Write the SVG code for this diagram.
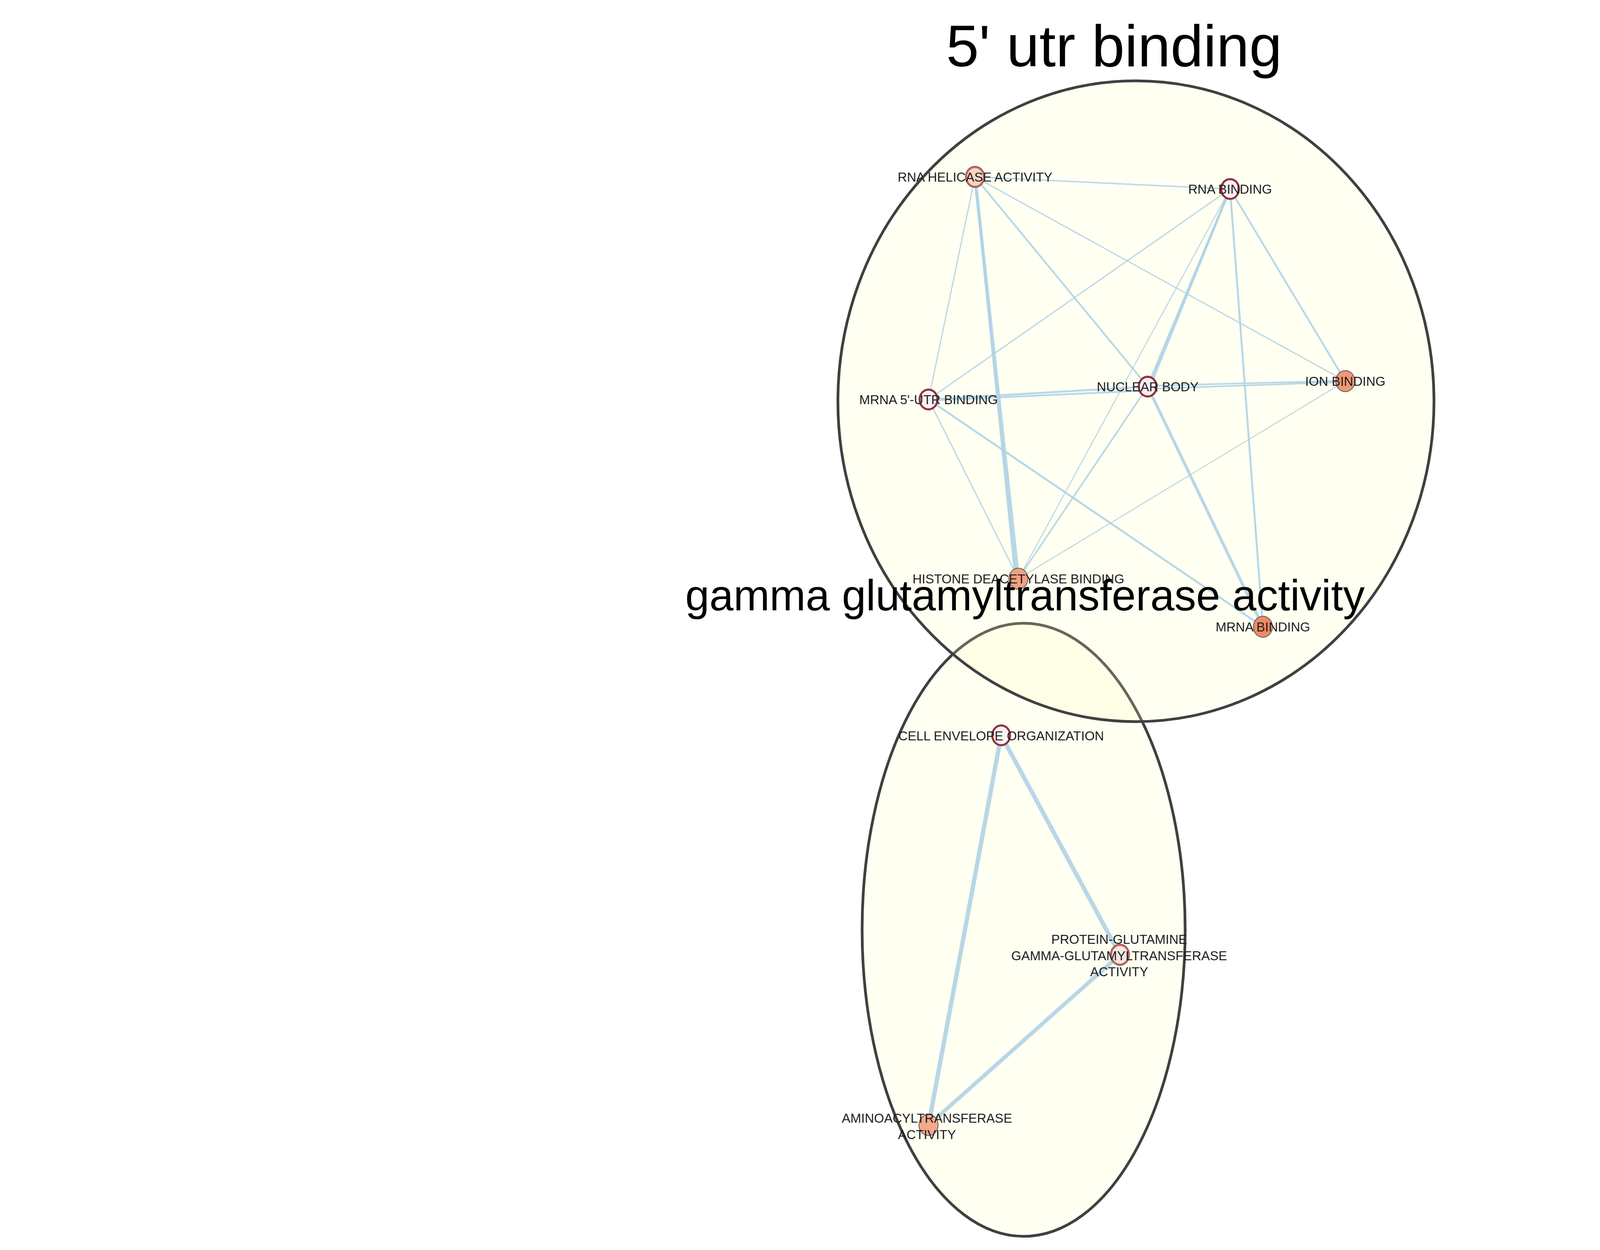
<svg xmlns="http://www.w3.org/2000/svg" width="5427" height="3201" viewBox="0 0 5427 3201">
<style>
.hull{fill:#FFFFBE;fill-opacity:0.2;stroke:#404040;stroke-width:7}
.e{stroke:#AFD3E6;stroke-opacity:0.9;fill:none;stroke-linecap:butt}
.nout{stroke:#5A5A5A;stroke-width:2}
.ring{fill:none;stroke-width:3.5}
.lbl{font-family:"Liberation Sans",Arial,sans-serif;font-size:33px;fill:#1E1E1E;text-anchor:middle}
.title{font-family:"Liberation Sans",Arial,sans-serif;fill:#000;text-anchor:middle}
</style>
<rect width="5427" height="3201" fill="#FFFFFF"/>
<g id="hulls">
<ellipse id="hull-gamma" class="hull" cx="2620.5" cy="2381" rx="413.5" ry="785"/>
<ellipse id="hull-utr" class="hull" cx="2908" cy="1027.5" rx="763" ry="820.5"/>
</g>
<g id="connectors">
<line class="e" stroke-width="3.5" x1="2496" y1="453" x2="3149" y2="484"/>
<line class="e" stroke-width="8" x1="2496" y1="453" x2="2607" y2="1482"/>
<line class="e" stroke-width="6" x1="2496" y1="453" x2="2600" y2="1482"/>
<line class="e" stroke-width="3" x1="2496" y1="453" x2="2377" y2="1023"/>
<line class="e" stroke-width="4.5" x1="2496" y1="453" x2="2938" y2="990"/>
<line class="e" stroke-width="3" x1="2496" y1="453" x2="3444" y2="976"/>
<line class="e" stroke-width="3" x1="3149" y1="484" x2="2377" y2="1023"/>
<line class="e" stroke-width="2.5" x1="3149" y1="484" x2="2607" y2="1482"/>
<line class="e" stroke-width="6" x1="3149" y1="484" x2="2938" y2="990"/>
<line class="e" stroke-width="5" x1="3149" y1="484" x2="2944" y2="990"/>
<line class="e" stroke-width="5" x1="3149" y1="484" x2="3233" y2="1605"/>
<line class="e" stroke-width="4.5" x1="3149" y1="484" x2="3444" y2="976"/>
<line class="e" stroke-width="5" x1="2938" y1="990" x2="2377" y2="1023"/>
<line class="e" stroke-width="4.5" x1="2938" y1="1000" x2="2377" y2="1026"/>
<line class="e" stroke-width="4" x1="2938" y1="988" x2="3444" y2="975"/>
<line class="e" stroke-width="4" x1="2938" y1="996" x2="3444" y2="978"/>
<line class="e" stroke-width="7.5" x1="2938" y1="990" x2="3233" y2="1605"/>
<line class="e" stroke-width="4" x1="2938" y1="990" x2="2607" y2="1482"/>
<line class="e" stroke-width="2.5" x1="3444" y1="976" x2="2607" y2="1482"/>
<line class="e" stroke-width="3" x1="2377" y1="1023" x2="2607" y2="1482"/>
<line class="e" stroke-width="5" x1="2377" y1="1023" x2="3233" y2="1605"/>
<line class="e" stroke-width="11" x1="2563" y1="1883" x2="2867" y2="2445"/>
<line class="e" stroke-width="11" x1="2563" y1="1883" x2="2377" y2="2881"/>
<line class="e" stroke-width="10" x1="2867" y1="2445" x2="2377" y2="2881"/>
</g>
<g id="node-rna-helicase-activity">
<ellipse class="nout" cx="2496" cy="453" rx="24.5" ry="27" fill="#F6D4C6"/>
<ellipse class="ring" cx="2496" cy="453" rx="22" ry="24.5" stroke="#D6604D"/>
<text class="lbl" x="2496" y="465">RNA HELICASE ACTIVITY</text>
</g>
<g id="node-rna-binding">
<ellipse class="nout" cx="3149" cy="484" rx="24.5" ry="27" fill="#F7F0F2"/>
<ellipse class="ring" cx="3149" cy="484" rx="22" ry="24.5" stroke="#B2182B"/>
<text class="lbl" x="3149" y="496">RNA BINDING</text>
</g>
<g id="node-nuclear-body">
<ellipse class="nout" cx="2938" cy="990" rx="24.5" ry="27" fill="#F6EEF1"/>
<ellipse class="ring" cx="2938" cy="990" rx="22" ry="24.5" stroke="#B2182B"/>
<text class="lbl" x="2938" y="1002">NUCLEAR BODY</text>
</g>
<g id="node-ion-binding">
<ellipse class="nout" cx="3444" cy="976" rx="24.5" ry="27" fill="#F09672"/>
<text class="lbl" x="3444" y="988">ION BINDING</text>
</g>
<g id="node-mrna-5utr-binding">
<ellipse class="nout" cx="2377" cy="1023" rx="24.5" ry="27" fill="#F7F3F5"/>
<ellipse class="ring" cx="2377" cy="1023" rx="22" ry="24.5" stroke="#B2182B"/>
<text class="lbl" x="2377" y="1035">MRNA 5'-UTR BINDING</text>
</g>
<g id="node-histone-deacetylase-binding">
<ellipse class="nout" cx="2607" cy="1482" rx="24.5" ry="27" fill="#F3A07F"/>
<text class="lbl" x="2607" y="1494">HISTONE DEACETYLASE BINDING</text>
</g>
<g id="node-mrna-binding">
<ellipse class="nout" cx="3233" cy="1605" rx="24.5" ry="27" fill="#EE8B63"/>
<text class="lbl" x="3233" y="1617">MRNA BINDING</text>
</g>
<g id="node-cell-envelope-organization">
<ellipse class="nout" cx="2563" cy="1883" rx="24.5" ry="27" fill="#F6F6F8"/>
<ellipse class="ring" cx="2563" cy="1883" rx="22" ry="24.5" stroke="#B2182B"/>
<text class="lbl" x="2563" y="1896">CELL ENVELOPE ORGANIZATION</text>
</g>
<g id="node-protein-glutamine-gamma-glutamyltransferase-activity">
<ellipse class="nout" cx="2867" cy="2445" rx="24.5" ry="27" fill="#F7E4E4"/>
<ellipse class="ring" cx="2867" cy="2445" rx="22" ry="24.5" stroke="#D6604D"/>
<text class="lbl" x="2865" y="2417">PROTEIN-GLUTAMINE</text>
<text class="lbl" x="2865" y="2459">GAMMA-GLUTAMYLTRANSFERASE</text>
<text class="lbl" x="2865" y="2500">ACTIVITY</text>
</g>
<g id="node-aminoacyltransferase-activity">
<ellipse class="nout" cx="2377" cy="2881" rx="24.5" ry="27" fill="#F4A98B"/>
<text class="lbl" x="2373" y="2875">AMINOACYLTRANSFERASE</text>
<text class="lbl" x="2373" y="2917">ACTIVITY</text>
</g>
<g id="titles">
<text class="title" x="2852" y="170" font-size="151">5' utr binding</text>
<text class="title" x="2624" y="1563" font-size="111">gamma glutamyltransferase activity</text>
</g>
</svg>
